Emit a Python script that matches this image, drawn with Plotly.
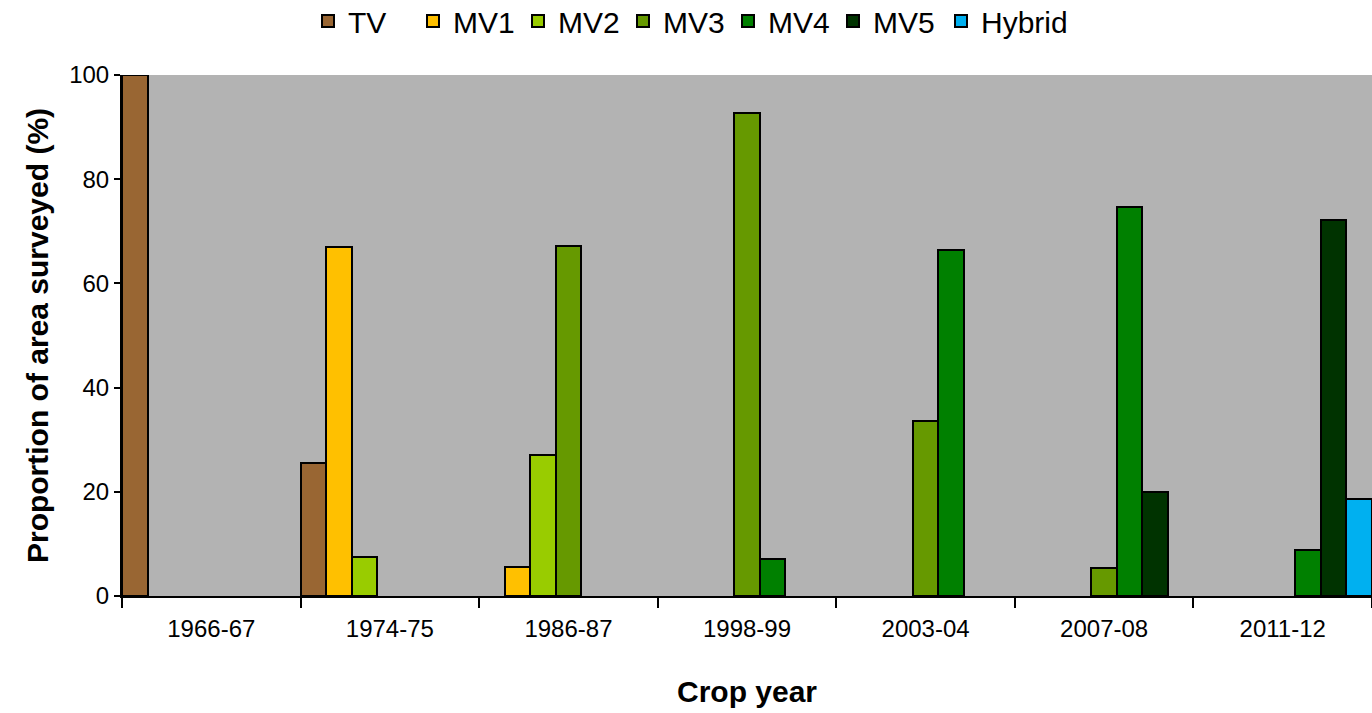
import plotly.graph_objects as go

years = ["1966-67", "1974-75", "1986-87", "1998-99", "2003-04", "2007-08", "2011-12"]
series_names = ["TV", "MV1", "MV2", "MV3", "MV4", "MV5", "Hybrid"]
tv = [100, 25.5, None, None, None, None, None]
mv1 = [None, 66.9, 5.5, None, None, None, None]
mv2 = [None, 7.4, 27.0, None, None, None, None]
mv3 = [None, None, 67.2, 92.7, 33.6, 5.3, None]
mv4 = [None, None, None, 7.1, 66.4, 74.6, 8.9]
mv5 = [None, None, None, None, None, 19.9, 72.1]
hybrid = [None, None, None, None, None, None, 18.6]
colors = ["#996633", "#FFC000", "#99CC00", "#669900", "#008000", "#003300", "#00B0F0"]

series_values = [tv, mv1, mv2, mv3, mv4, mv5, hybrid]

fig = go.Figure()
for name, vals, col in zip(series_names, series_values, colors):
    fig.add_trace(go.Bar(
        name=name, x=years, y=vals,
        marker=dict(color=col, line=dict(color="black", width=2)),
        legend="legend2" if name == "Hybrid" else "legend",
    ))

font_family = "Liberation Sans, Arial, sans-serif"
legend_common = dict(
    orientation="h", xref="paper", yref="paper",
    xanchor="left", y=1.1036, yanchor="middle",
    font=dict(size=30, family=font_family), itemwidth=30,
    tracegroupgap=0, traceorder="normal", bgcolor="rgba(0,0,0,0)",
)
fig.update_layout(
    width=1372, height=713,
    barmode="group", bargap=0, bargroupgap=0,
    plot_bgcolor="#B3B3B3", paper_bgcolor="white",
    margin=dict(l=122, r=0, t=75, b=117, autoexpand=False),
    font=dict(family=font_family, color="black"),
    showlegend=True,
    legend=dict(x=0.1488, entrywidth=60, entrywidthmode="pixels", **legend_common),
    legend2=dict(x=0.6552, **legend_common),
    xaxis=dict(
        type="category", range=[-0.5, 6.5], automargin=False,
        tickson="boundaries", ticks="outside", ticklen=10, tickwidth=1.5, tickcolor="black",
        showline=True, linecolor="black", linewidth=2,
        tickfont=dict(size=24, family=font_family), tickangle=0,
        ticklabelstandoff=10,
        title=dict(text="<b>Crop year</b>", font=dict(size=30, family=font_family), standoff=40),
        showgrid=False,
    ),
    yaxis=dict(
        range=[0, 100], tickvals=[0, 20, 40, 60, 80, 100], automargin=False,
        ticks="outside", ticklen=6, tickwidth=1.5, tickcolor="black",
        showline=True, linecolor="black", linewidth=2,
        tickfont=dict(size=24, family=font_family),
        title=dict(text="<b>Proportion of area surveyed (%)</b>", font=dict(size=30, family=font_family), standoff=12),
        showgrid=False, zeroline=False,
    ),
)

fig.write_html("out.html", config={"displayModeBar": False},
               post_script="document.body.style.margin='0';")
